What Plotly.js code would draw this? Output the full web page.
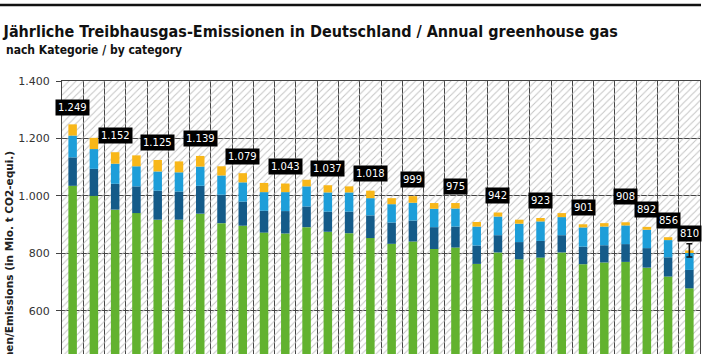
<!DOCTYPE html>
<html><head><meta charset="utf-8">
<script src="https://cdn.plot.ly/plotly-3.0.1.min.js"></script>
<style>
html,body{margin:0;padding:0;background:#fff;overflow:hidden}
#wrap{width:707px;height:354px;overflow:hidden;position:relative}
#chart{width:707px;height:543px}
</style>
</head><body><div id="wrap"><div id="chart"></div></div>
<script>
// Data (Mio. t CO2-equivalents)
const years = [1990,1991,1992,1993,1994,1995,1996,1997,1998,1999,2000,2001,2002,2003,2004,2005,2006,2007,2008,2009,2010,2011,2012,2013,2014,2015,2016,2017,2018,2019];
const energy      = [1035,1000,952,940,917,917,938,905,896,872,869,891,875,870,853,833,841,815,820,763,803,779,785,803,762,768,770,750,719,678];
const industry    = [99,94,90,93,101,98,97,99,84,76,78,72,70,75,79,74,73,76,73,64,60,60,58,60,61,60,62,68,67,64];
const agriculture = [76,69,70,70,67,67,67,67,67,65,66,70,67,67,60,64,62,64,63,66,65,64,68,63,67,65,65,64,60,59];
const waste       = [39,39,40,38,40,38,37,32,32,32,30,23,25,21,26,21,23,20,19,16,14,14,12,14,11,12,11,10,10,9];
const labelYears  = [1990,1992,1994,1996,1998,2000,2002,2004,2006,2008,2010,2012,2014,2016,2017,2018,2019];
const labelValues = [1249,1152,1125,1139,1079,1043,1037,1018,999,975,942,923,901,908,892,856,810];
const errorYear = [2019];
const errorValue = [810];
const errorRange = [23];
const seriesNames = ['Energiebedingte Emissionen / Energy','Industrieprozesse / Industrial processes','Landwirtschaft / Agriculture','Abfall und Abwasser / Waste'];
const yTickMax = 1400;

const colors = ['#62b22f','#145b89','#1d9ed9','#f8b719'];
const series = [energy, industry, agriculture, waste];

const traces = [];
// hatched plot background, one cell per year
traces.push({
  type:'bar', x: years, y: years.map(()=>yTickMax), width: 1, base: 0,
  marker:{color:'rgba(0,0,0,0)', line:{width:0},
    pattern:{shape:'/', size:5, solidity:0.2, fgcolor:'#c4c4c4', bgcolor:'rgba(0,0,0,0)', fillmode:'replace'}},
  hoverinfo:'skip', showlegend:false
});
let cum = years.map(()=>0);
series.forEach((s,i)=>{
  traces.push({type:'bar', name:seriesNames[i], x:years, y:s, base:cum.slice(), width:0.4,
    marker:{color:colors[i], line:{width:0}}, showlegend:false});
  cum = cum.map((c,j)=>c+s[j]);
});
traces.push({type:'scatter', mode:'markers', x:errorYear, y:errorValue,
  marker:{opacity:0, size:1}, showlegend:false, hoverinfo:'skip',
  error_y:{type:'data', array:errorRange, symmetric:true, color:'#111', thickness:1.6, width:3}});

function fmt(v){ return v.toString().replace(/\B(?=(\d{3})+(?!\d))/g,'.'); }
const extraShift = {2016: 9};
const annotations = labelYears.map((yr,i)=>({
  x: yr, y: labelValues[i], xref:'x', yref:'y', text: fmt(labelValues[i]),
  showarrow:false, yanchor:'middle', yshift: 17 + (extraShift[yr]||0),
  bgcolor:'#000', borderpad:2, font:{family:'DejaVu Sans, sans-serif', size:10, color:'#fff'}
}));
annotations.push({
  xref:'paper', yref:'paper', x:0, y:1, xanchor:'left', yanchor:'middle',
  xshift:-58, yshift:31, showarrow:false, text:'<b>nach Kategorie / by category</b>',
  font:{family:'DejaVu Sans Condensed, sans-serif', size:12, color:'#111'}
});
// y-axis title
annotations.push({
  xref:'paper', yref:'y', x:0, y:1161, xanchor:'center', yanchor:'top', xshift:-53,
  textangle:-90, showarrow:false, text:'<b>Emissionen/Emissions (in Mio. t CO2-equi.)</b>',
  font:{family:'DejaVu Sans, sans-serif', size:10.5, color:'#222'}
});

const layout = {
  width:707, height:543,
  margin:{l:62, r:7, t:81, b:60},
  paper_bgcolor:'#fff', plot_bgcolor:'#fff',
  barmode:'overlay',
  separators:',.',
  title:{text:'<b>Jährliche Treibhausgas-Emissionen in Deutschland / Annual greenhouse gas</b>',
    x:0.005, xref:'container', xanchor:'left', y:1-31/543, yref:'container', yanchor:'middle',
    font:{family:'DejaVu Sans Condensed, sans-serif', size:16, color:'#111'}},
  xaxis:{range:[1989.5,2019.5], tickvals:years, ticktext:years.map(String), showgrid:false,
    minor:{tick0:1989.5, dtick:1, showgrid:true, gridcolor:'#444', gridwidth:1},
    showline:true, mirror:true, linecolor:'#444', linewidth:1, zeroline:false,
    tickfont:{family:'DejaVu Sans, sans-serif', size:11, color:'#333'}, fixedrange:true},
  yaxis:{range:[0,yTickMax], dtick:200, tick0:0, tickformat:',d', showgrid:true, gridcolor:'#444', gridwidth:1,
    showline:true, mirror:true, linecolor:'#444', linewidth:1, zeroline:false,
    ticks:'outside', ticklen:5, tickcolor:'#444', ticklabelstandoff:4,
    tickfont:{family:'DejaVu Sans, sans-serif', size:11, color:'#333'},
    fixedrange:true},
  shapes:[{type:'line', xref:'paper', yref:'paper', x0:-62/638, x1:1+1/638, y0:1+76/402, y1:1+76/402,
    line:{color:'#111', width:2.5}}],
  annotations: annotations,
  showlegend:false
};
Plotly.newPlot('chart', traces, layout, {staticPlot:true, displayModeBar:false});
</script>
</body></html>
